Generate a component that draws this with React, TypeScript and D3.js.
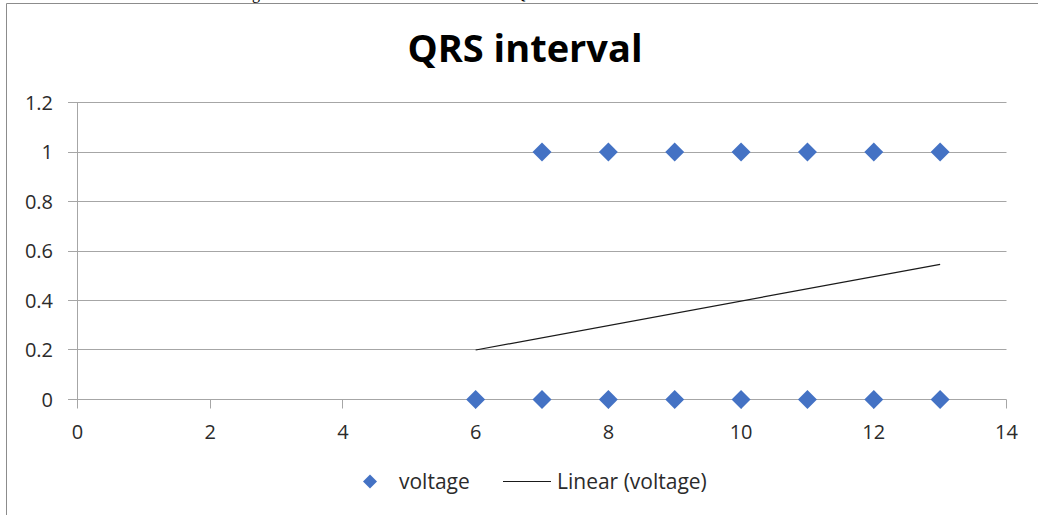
import React, { useEffect, useRef } from 'react';
import * as d3 from 'd3';

// voltage scatter points (x = sample, y = level)
const voltageX = [6, 7, 8, 9, 10, 11, 12, 13, 7, 8, 9, 10, 11, 12, 13];
const voltageY = [0, 0, 0, 0, 0, 0, 0, 0, 1, 1, 1, 1, 1, 1, 1];

// linear trendline end points as shown in the chart
const trendX = [6, 13];
const trendY = [0.2, 0.546];

const xTicks = [0, 2, 4, 6, 8, 10, 12, 14];
const yTicks = [0, 0.2, 0.4, 0.6, 0.8, 1, 1.2];

const FONT = '"Open Sans", "Noto Sans", sans-serif';

export default function App() {
  const svgRef = useRef<SVGSVGElement>(null);

  useEffect(() => {
    if (!svgRef.current) return;
    const W = 1038;
    const H = 515;

    const svg = d3.select(svgRef.current).attr('width', W).attr('height', H);
    svg.selectAll('*').remove();

    svg.append('rect').attr('width', W).attr('height', H).attr('fill', '#fff');

    // cut-off caption fragments above the chart frame
    svg.append('text').attr('x', 252).attr('y', -1).style('font-family', 'Liberation Serif, serif')
      .style('font-size', '16px').attr('fill', '#000').text('g');
    svg.append('text').attr('x', 514).attr('y', -1).style('font-family', 'Liberation Serif, serif')
      .style('font-size', '16px').attr('fill', '#000').text('Q');

    // chart frame (runs off right and bottom)
    svg.append('path')
      .attr('d', `M6.5,${H + 2} V3.5 H${W + 2}`)
      .attr('fill', 'none')
      .attr('stroke', '#8c8c8c')
      .attr('stroke-width', 1);

    const x = d3.scaleLinear().domain([0, 14]).range([77.5, 1006.5]);
    const y = d3.scaleLinear().domain([0, 1.2]).range([399.5, 102.5]);

    const g = svg.append('g');

    // horizontal gridlines (extend left as tick marks)
    g.selectAll('line.grid')
      .data(yTicks)
      .join('line')
      .attr('class', 'grid')
      .attr('x1', 68)
      .attr('x2', x(14))
      .attr('y1', d => Math.round(y(d) - 0.5) + 0.5)
      .attr('y2', d => Math.round(y(d) - 0.5) + 0.5)
      .attr('stroke', '#a6a6a6')
      .attr('stroke-width', 1);

    // y axis line
    g.append('line')
      .attr('x1', x(0)).attr('x2', x(0))
      .attr('y1', y(1.2)).attr('y2', y(0))
      .attr('stroke', '#a6a6a6');

    // x tick marks
    g.selectAll('line.xtick')
      .data(xTicks)
      .join('line')
      .attr('class', 'xtick')
      .attr('x1', d => Math.round(x(d) - 0.5) + 0.5)
      .attr('x2', d => Math.round(x(d) - 0.5) + 0.5)
      .attr('y1', y(0))
      .attr('y2', y(0) + 9)
      .attr('stroke', '#a6a6a6');

    // y tick labels
    g.selectAll('text.ylab')
      .data(yTicks)
      .join('text')
      .attr('class', 'ylab')
      .attr('x', 53)
      .attr('y', d => y(d) + 7)
      .attr('text-anchor', 'end')
      .style('font-family', FONT)
      .style('font-size', '20px')
      .attr('fill', '#2b2b2b')
      .text(d => String(d));

    // x tick labels
    g.selectAll('text.xlab')
      .data(xTicks)
      .join('text')
      .attr('class', 'xlab')
      .attr('x', d => x(d))
      .attr('y', 439)
      .attr('text-anchor', 'middle')
      .style('font-family', FONT)
      .style('font-size', '20px')
      .attr('fill', '#2b2b2b')
      .text(d => String(d));

    // trendline
    const line = d3.line<number>()
      .x((_, i) => x(trendX[i]))
      .y(d => y(d));
    g.append('path')
      .attr('d', line(trendY))
      .attr('fill', 'none')
      .attr('stroke', '#1a1a1a')
      .attr('stroke-width', 1.2);

    // diamonds
    const diamond = d3.symbol(d3.symbolSquare, 180);
    g.selectAll('path.pt')
      .data(voltageX.map((vx, i) => ({ x: vx, y: voltageY[i] })))
      .join('path')
      .attr('class', 'pt')
      .attr('d', diamond()!)
      .attr('transform', d => `translate(${x(d.x)},${y(d.y)}) rotate(45)`)
      .attr('fill', '#4472C4');

    // title
    svg.append('text')
      .attr('x', 525)
      .attr('y', 62)
      .attr('text-anchor', 'middle')
      .style('font-family', FONT)
      .style('font-weight', 'bold')
      .style('font-size', '38px')
      .attr('fill', '#000')
      .text('QRS interval');

    // legend
    const lg = svg.append('g');
    lg.append('path')
      .attr('d', d3.symbol(d3.symbolSquare, 98)()!)
      .attr('transform', 'translate(370,481.5) rotate(45)')
      .attr('fill', '#4472C4');
    lg.append('text')
      .attr('x', 399).attr('y', 488.5)
      .style('font-family', FONT).style('font-size', '21px')
      .attr('fill', '#2b2b2b').text('voltage');
    lg.append('line')
      .attr('x1', 503).attr('x2', 551)
      .attr('y1', 481.5).attr('y2', 481.5)
      .attr('stroke', '#1a1a1a').attr('stroke-width', 1.2);
    lg.append('text')
      .attr('x', 557).attr('y', 488.5)
      .style('font-family', FONT).style('font-size', '21px')
      .attr('fill', '#2b2b2b').text('Linear (voltage)');
  }, []);

  return (
    <div style={{ position: 'absolute', left: 0, top: 0, width: 1038, height: 515, overflow: 'hidden' }}>
      <svg ref={svgRef} style={{ display: 'block' }} />
    </div>
  );
}
